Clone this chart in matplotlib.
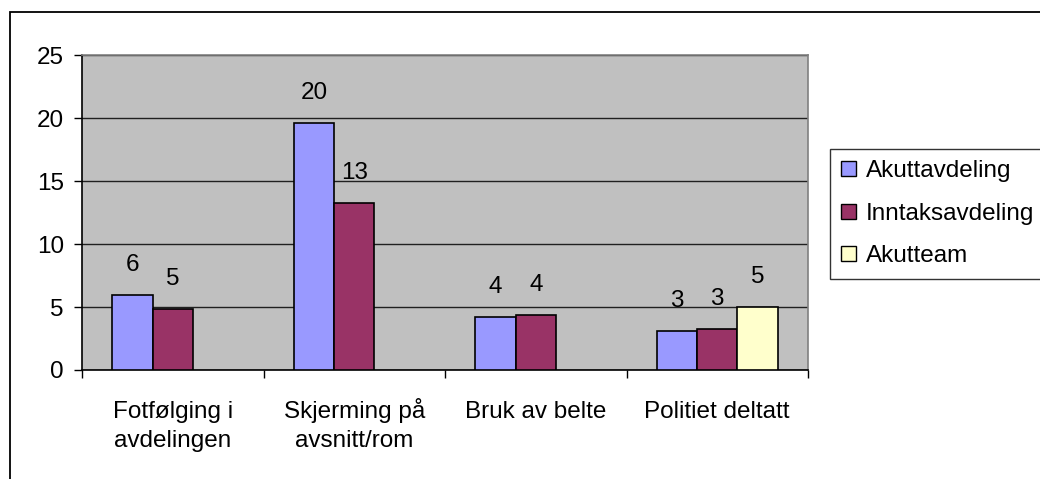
import numpy as np
import matplotlib
matplotlib.use("Agg")
import matplotlib.pyplot as plt
from matplotlib.patches import Rectangle, Patch

plt.rcParams['font.family'] = ['Liberation Sans', 'DejaVu Sans']

categories = ["Fotfølging i\navdelingen", "Skjerming på\navsnitt/rom", "Bruk av belte", "Politiet deltatt"]
series_names = ["Akuttavdeling", "Inntaksavdeling", "Akutteam"]
akuttavdeling = [5.95, 19.6, 4.23, 3.12]
inntaksavdeling = [4.86, 13.27, 4.39, 3.28]
akutteam = [np.nan, np.nan, np.nan, 5.02]
colors = ["#9999FF", "#993366", "#FFFFCC"]
yticks = [0, 5, 10, 15, 20, 25]

W, H = 1040, 479
fig = plt.figure(figsize=(W / 100, H / 100), dpi=100)
fig.patch.set_facecolor("white")

# outer chart frame
fig.patches.append(Rectangle((10 / W, -0.2), 1.2, (1 - 12 / H) + 0.2, transform=fig.transFigure,
                             fill=False, edgecolor="black", lw=1.3, zorder=0))

ax = fig.add_axes([82 / W, 1 - 370 / H, (808 - 82) / W, (370 - 55) / H])
ax.set_facecolor("#C0C0C0")

fs = 17.5
x = np.arange(len(categories))
w = 0.2225
all_series = [akuttavdeling, inntaksavdeling, akutteam]
for i, (vals, col, name) in enumerate(zip(all_series, colors, series_names)):
    pos = x + (i - 1) * w
    ax.bar(pos, vals, width=w, color=col, edgecolor="black", linewidth=1.2, zorder=3, label=name)
    for p, v in zip(pos, vals):
        if not np.isnan(v):
            ax.annotate(f"{v:.0f}", xy=(p, v), xytext=(0, 13.5), textcoords="offset points",
                        ha="center", va="bottom", fontsize=fs, color="black")

ax.set_ylim(0, 25)
ax.set_xlim(-0.5, len(categories) - 0.5)
ax.set_yticks(yticks)
ax.set_yticklabels([str(t) for t in yticks], fontsize=fs)
ax.yaxis.grid(True, color="#202020", linewidth=1.0, zorder=1)
ax.set_axisbelow(True)

# category boundary ticks, category labels as baseline-aligned text lines
ax.set_xticks(np.arange(len(categories) + 1) - 0.5)
ax.set_xticklabels([])
ax.tick_params(axis="x", which="major", direction="out", length=6, width=1, color="black")
ax.tick_params(axis="y", direction="out", length=6, width=1, color="black", pad=7)
first_baseline_pt = 34.5
line_step_pt = 20.9
for xi, lab in zip(x, categories):
    for k, line in enumerate(lab.split("\n")):
        ax.annotate(line, xy=(xi, 0), xycoords=("data", "axes fraction"),
                    xytext=(0, -(first_baseline_pt + k * line_step_pt)),
                    textcoords="offset points", ha="center", va="baseline", fontsize=fs,
                    annotation_clip=False)

for s in ["top", "right"]:
    ax.spines[s].set_color("#808080")
    ax.spines[s].set_linewidth(1.2)
for s in ["left", "bottom"]:
    ax.spines[s].set_color("black")
    ax.spines[s].set_linewidth(1.2)

handles = [Patch(facecolor=c, edgecolor="black", linewidth=1.0) for c in colors]
leg = fig.legend(handles, series_names, loc="upper left", bbox_to_anchor=(830 / W, 1 - 149 / H),
                 fontsize=fs, frameon=True, fancybox=False, edgecolor="black",
                 handlelength=0.62, handleheight=0.58, handletextpad=0.38,
                 labelspacing=0.84, borderpad=0.47, borderaxespad=0)
leg.get_frame().set_linewidth(1.0)

fig.savefig("out.png", dpi=100, facecolor="white")
